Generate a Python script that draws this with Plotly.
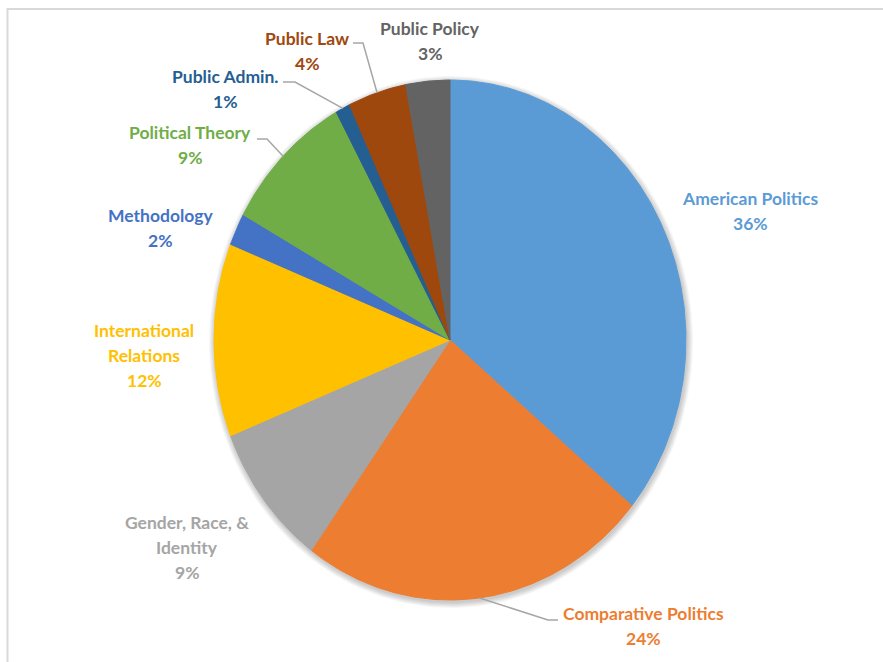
import numpy as np
import plotly.graph_objects as go

# Share of dissertations by subfield (percent)
fields = [
    "American Politics", "Comparative Politics", "Gender, Race, & Identity",
    "International Relations", "Methodology", "Political Theory",
    "Public Admin.", "Public Law", "Public Policy",
]
shares = [36, 24, 9, 12, 2, 9, 1, 4, 3]
colors = [
    "#5B9BD5", "#ED7D31", "#A5A5A5", "#FFC000", "#4472C4",
    "#70AD47", "#255E91", "#9E480E", "#636363",
]
label_lines = [
    ["American Politics"], ["Comparative Politics"], ["Gender, Race, &", "Identity"],
    ["International", "Relations"], ["Methodology"], ["Political Theory"],
    ["Public Admin."], ["Public Law"], ["Public Policy"],
]

# Canvas and pie geometry (pixels)
W, H = 883, 662
CX, CY, RX, RY = 450, 340, 236, 260
LINE_PITCH = 25


def to_u(px):
    return (px - CX) / RX


def to_v(py):
    return (CY - py) / RY


# Label block centres (pixels) and leader-line elbow/end points
label_pos = [
    (750, 210.5), (643, 626), (187, 547), (144, 355), (160.5, 227.5),
    (190, 145), (225, 89), (307, 50.5), (430, 41),
]
leaders = {
    1: [(548, 620), (558, 620)],
    5: [(267, 139), (257, 139)],
    6: [(295, 82), (283, 82)],
    7: [(363, 43), (353, 43)],
}

fig = go.Figure()

# soft drop shadow under the pie
t = np.linspace(0, 2 * np.pi, 241)
for k in range(1, 7):
    su, sv = 1 + k / RX, 1 + k / RY
    fig.add_trace(go.Scatter(
        x=to_u(CX + 1) + su * np.sin(t), y=to_v(CY + 2) + sv * np.cos(t),
        mode="lines", fill="toself", fillcolor="rgba(0,0,0,0.035)",
        line=dict(width=0), hoverinfo="skip", showlegend=False,
    ))

total = sum(shares)
cum = np.concatenate([[0], np.cumsum(shares)])
mids = []
for i, (name, s, c) in enumerate(zip(fields, shares, colors)):
    th0 = 2 * np.pi * cum[i] / total
    th1 = 2 * np.pi * cum[i + 1] / total
    th = np.linspace(th0, th1, max(4, int(s * 6)))
    xs = np.concatenate([[0], np.sin(th), [0]])
    ys = np.concatenate([[0], np.cos(th), [0]])
    fig.add_trace(go.Scatter(
        x=xs, y=ys, mode="lines", fill="toself", fillcolor=c,
        line=dict(color=c, width=1), name=name,
        hovertemplate=f"{name}: {s}%<extra></extra>", showlegend=False,
    ))
    mids.append((th0 + th1) / 2)

# leader lines from the slice edge to the label
for i, pts in leaders.items():
    xs = [np.sin(mids[i])] + [to_u(p[0]) for p in pts]
    ys = [np.cos(mids[i])] + [to_v(p[1]) for p in pts]
    fig.add_trace(go.Scatter(
        x=xs, y=ys, mode="lines", line=dict(color="#A6A6A6", width=1.5),
        hoverinfo="skip", showlegend=False,
    ))

annotations = []
for i, (lines, s, c) in enumerate(zip(label_lines, shares, colors)):
    rows = lines + [f"{s}%"]
    n = len(rows)
    bx, by = label_pos[i]
    for j, row in enumerate(rows):
        py = by + (j - (n - 1) / 2) * LINE_PITCH
        annotations.append(dict(
            x=to_u(bx), y=to_v(py), xref="x", yref="y", text=f"<b>{row}</b>",
            showarrow=False, xanchor="center", yanchor="middle",
            font=dict(family="Lato", size=17.5, color=c),
        ))

fig.update_layout(
    width=W, height=H, margin=dict(l=0, r=0, t=0, b=0),
    paper_bgcolor="white", plot_bgcolor="white",
    xaxis=dict(range=[to_u(0), to_u(W)], visible=False, fixedrange=True),
    yaxis=dict(range=[to_v(H), to_v(0)], visible=False, fixedrange=True),
    annotations=annotations,
    shapes=[dict(
        type="rect", xref="paper", yref="paper",
        x0=7.5 / W, x1=1.05, y0=-0.05, y1=1 - 9 / H,
        line=dict(color="#D9D9D9", width=2), layer="below",
    )],
)

fig.write_html("out.html")
